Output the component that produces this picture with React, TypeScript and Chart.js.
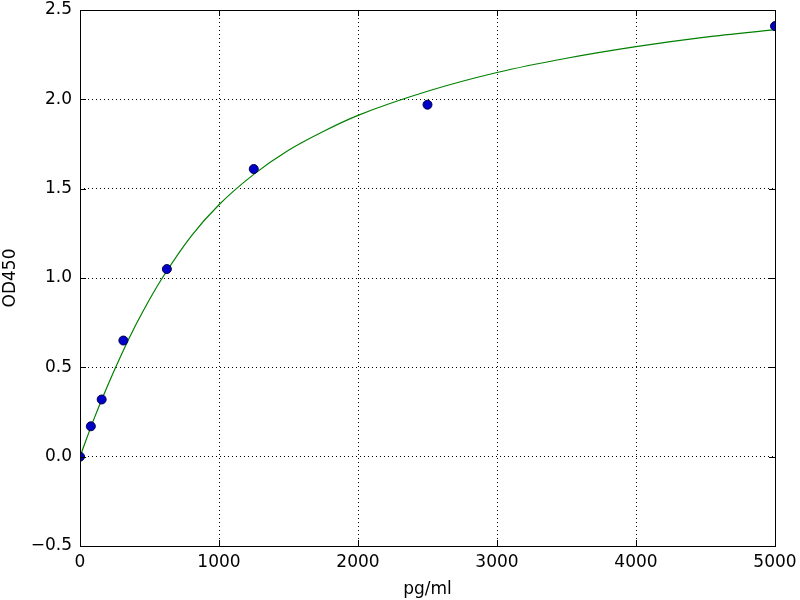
import React, { useEffect, useRef } from 'react';
import { Chart, registerables, Plugin } from 'chart.js';

Chart.register(...registerables);

// measured standards (pg/ml vs OD450)
const standardConc = [0, 78, 156, 312, 625, 1250, 2500, 5000];
const standardOD = [0.0, 0.17, 0.32, 0.65, 1.05, 1.61, 1.97, 2.41];

// fitted curve
const curveConc = [0, 100, 200, 300, 400, 500, 600, 800, 1000, 1250, 1500, 1750, 2000, 2500, 3000, 3500, 4000, 4500, 5000];
const curveOD = [0, 0.21, 0.4, 0.575, 0.735, 0.88, 1.01, 1.235, 1.41, 1.58, 1.715, 1.82, 1.91, 2.045, 2.15, 2.23, 2.295, 2.348, 2.39];

const xTickValues = [0, 1000, 2000, 3000, 4000, 5000];
const xTickLabels = ['0', '1000', '2000', '3000', '4000', '5000'];
const yTickValues = [-0.5, 0, 0.5, 1, 1.5, 2, 2.5];
const yTickLabels = ['\u22120.5', '0.0', '0.5', '1.0', '1.5', '2.0', '2.5'];

const FONT = { family: '"DejaVu Sans", sans-serif', size: 17 };

// frame + inward tick marks, matplotlib style
const framePlugin: Plugin = {
  id: 'frame',
  afterDraw(chart) {
    const { ctx, chartArea } = chart;
    const { left, right, top, bottom } = chartArea;
    const xs = chart.scales.x;
    const ys = chart.scales.y;
    const tl = 6;
    ctx.save();
    ctx.strokeStyle = '#000';
    ctx.lineWidth = 1;
    ctx.setLineDash([]);
    ctx.beginPath();
    xTickValues.forEach(v => {
      const px = Math.round(xs.getPixelForValue(v)) + 0.5;
      ctx.moveTo(px, bottom);
      ctx.lineTo(px, bottom - tl);
      ctx.moveTo(px, top);
      ctx.lineTo(px, top + tl);
    });
    yTickValues.forEach(v => {
      const py = Math.round(ys.getPixelForValue(v)) + 0.5;
      ctx.moveTo(left, py);
      ctx.lineTo(left + tl, py);
      ctx.moveTo(right, py);
      ctx.lineTo(right - tl, py);
    });
    ctx.stroke();
    ctx.strokeRect(Math.round(left) + 0.5, Math.round(top) + 0.5, Math.round(right - left), Math.round(bottom - top));
    ctx.restore();
  },
};

const App: React.FC = () => {
  const canvasRef = useRef<HTMLCanvasElement>(null);
  const chartRef = useRef<Chart | null>(null);

  useEffect(() => {
    if (!canvasRef.current) return;
    if (chartRef.current) chartRef.current.destroy();

    chartRef.current = new Chart(canvasRef.current, {
      type: 'scatter',
      data: {
        datasets: [
          {
            label: 'Standards',
            data: standardConc.map((x, i) => ({ x, y: standardOD[i] })),
            backgroundColor: '#0000c8',
            borderColor: '#00004a',
            borderWidth: 1,
            pointRadius: 4.5,
            showLine: false,
          },
          {
            label: 'Fit',
            data: curveConc.map((x, i) => ({ x, y: curveOD[i] })),
            showLine: true,
            borderColor: '#008000',
            borderWidth: 1.2,
            pointRadius: 0,
            cubicInterpolationMode: 'monotone',
          },
        ],
      },
      options: {
        animation: false,
        responsive: true,
        maintainAspectRatio: false,
        layout: { padding: { top: 10, right: 25, left: 0, bottom: 0 } },
        plugins: {
          legend: { display: false },
          tooltip: { enabled: false },
        },
        scales: {
          x: {
            type: 'linear',
            min: 0,
            max: 5000,
            afterFit: scale => {
              scale.height = 54;
              scale.paddingLeft = 0;
              scale.paddingRight = 0;
            },
            afterBuildTicks: scale => {
              scale.ticks = xTickValues.map(value => ({ value }));
            },
            ticks: {
              font: FONT,
              color: '#000',
              padding: 6,
              maxRotation: 0,
              callback: (value) => xTickLabels[xTickValues.indexOf(Number(value))] ?? '',
            },
            grid: { color: '#000', lineWidth: 1, drawTicks: false },
            border: { display: false, dash: [1, 3] },
            title: { display: true, text: 'pg/ml', font: FONT, color: '#000', padding: { top: 2, bottom: 0 } },
          },
          y: {
            type: 'linear',
            min: -0.5,
            max: 2.5,
            afterFit: scale => {
              scale.width = 80;
              scale.paddingTop = 0;
              scale.paddingBottom = 0;
            },
            afterBuildTicks: scale => {
              scale.ticks = yTickValues.map(value => ({ value }));
            },
            ticks: {
              font: FONT,
              color: '#000',
              padding: 8,
              callback: (value) => {
                const i = yTickValues.findIndex(v => Math.abs(v - Number(value)) < 1e-9);
                return i >= 0 ? yTickLabels[i] : '';
              },
            },
            grid: { color: '#000', lineWidth: 1, drawTicks: false },
            border: { display: false, dash: [1, 3] },
            title: { display: true, text: 'OD450', font: FONT, color: '#000', padding: { top: 0, bottom: 0 } },
          },
        },
      },
      plugins: [framePlugin],
    });

    return () => {
      if (chartRef.current) {
        chartRef.current.destroy();
        chartRef.current = null;
      }
    };
  }, []);

  return (
    <div style={{ position: 'fixed', left: 0, top: 0, width: 800, height: 600, background: '#fff' }}>
      <canvas ref={canvasRef}></canvas>
    </div>
  );
};

export default App;
